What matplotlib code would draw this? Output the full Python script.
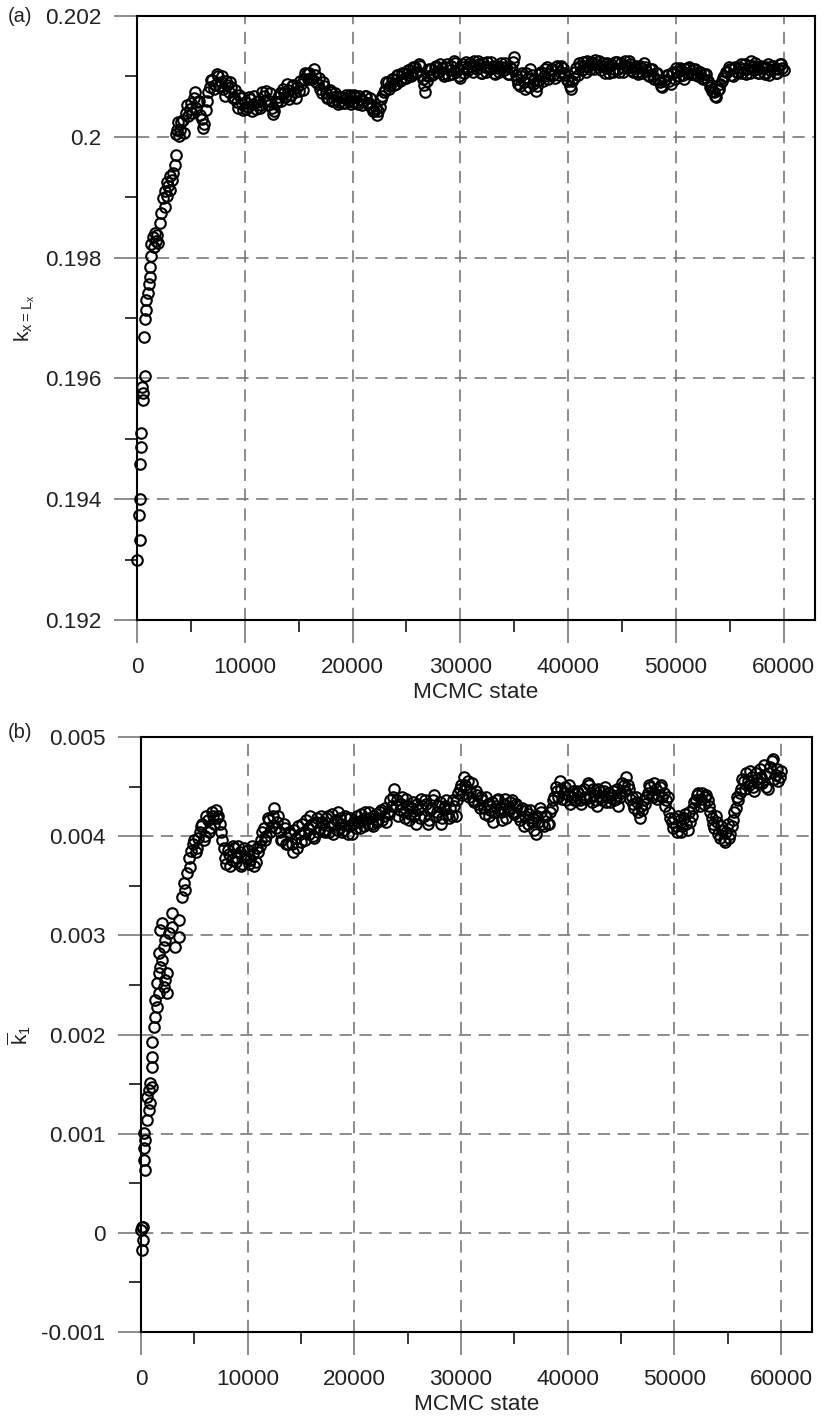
import numpy as np
import matplotlib
matplotlib.use("Agg")
import matplotlib.pyplot as plt
from matplotlib.ticker import MultipleLocator

plt.rcParams['font.family'] = ['Liberation Sans', 'DejaVu Sans']
plt.rcParams['mathtext.default'] = 'regular'

# ---- panel (a): k at x = L_x ----
# burn-in part, read point by point
early_states_a = [30, 250, 185, 250, 250, 340, 340, 555, 555, 460, 710, 650, 770, 860, 860,
                  1020, 1080, 1170, 1170, 1330, 1300, 1450, 1550, 1650, 1750, 1850, 1950,
                  2100, 2250, 2560, 2400, 2600, 2750, 2900, 3050, 3200, 3350, 3100, 2800,
                  3490, 3640, 3600, 3750, 3900, 3800]
early_values_a = [0.19299, 0.19332, 0.19374, 0.19400, 0.19459, 0.19487, 0.19510, 0.19565,
                  0.19575, 0.19586, 0.19604, 0.19669, 0.19698, 0.19713, 0.19730, 0.19741,
                  0.19757, 0.19768, 0.19785, 0.19802, 0.19822, 0.19834, 0.19818, 0.19840,
                  0.19828, 0.19838, 0.19824, 0.19857, 0.19874, 0.19884, 0.19898, 0.19910,
                  0.19925, 0.19918, 0.19935, 0.19928, 0.19940, 0.19912, 0.19902, 0.19953,
                  0.19970, 0.20004, 0.20012, 0.20002, 0.20024]

# rest of the chain: samples every 250 states from 4000, and the ones in between (from 4125)
chain_start_a = 4000
chain_values_a = [
    0.20012, 0.20028, 0.20040, 0.20034, 0.20056, 0.20064, 0.20048, 0.20060, 0.20030, 0.20022, 0.20060, 0.20082,
    0.20094, 0.20086, 0.20100, 0.20090, 0.20080, 0.20092, 0.20074, 0.20082, 0.20066, 0.20058, 0.20070, 0.20054,
    0.20058, 0.20050, 0.20062, 0.20054, 0.20046, 0.20060, 0.20052, 0.20068, 0.20076, 0.20060, 0.20048, 0.20042,
    0.20058, 0.20072, 0.20080, 0.20066, 0.20078, 0.20070, 0.20086, 0.20064, 0.20076, 0.20088, 0.20096, 0.20104,
    0.20106, 0.20096, 0.20102, 0.20088, 0.20080, 0.20090, 0.20072, 0.20064, 0.20074, 0.20060, 0.20068, 0.20058,
    0.20066, 0.20056, 0.20064, 0.20070, 0.20058, 0.20066, 0.20054, 0.20062, 0.20060, 0.20068, 0.20056, 0.20050,
    0.20042, 0.20036, 0.20050, 0.20068, 0.20078, 0.20090, 0.20084, 0.20096, 0.20088, 0.20102, 0.20094, 0.20106,
    0.20098, 0.20110, 0.20104, 0.20116, 0.20108, 0.20118, 0.20096, 0.20074, 0.20100, 0.20112, 0.20104, 0.20118,
    0.20108, 0.20114, 0.20100, 0.20120, 0.20110, 0.20104, 0.20122, 0.20112, 0.20098, 0.20116, 0.20124, 0.20110,
    0.20118, 0.20126, 0.20112, 0.20120, 0.20106, 0.20116, 0.20124, 0.20112, 0.20118, 0.20104, 0.20114, 0.20122,
    0.20110, 0.20116, 0.20104, 0.20112, 0.20132, 0.20096, 0.20084, 0.20106, 0.20080, 0.20098, 0.20112, 0.20088,
    0.20076, 0.20094, 0.20108, 0.20100, 0.20116, 0.20104, 0.20112, 0.20098, 0.20118, 0.20108, 0.20114, 0.20102,
    0.20092, 0.20080, 0.20098, 0.20114, 0.20122, 0.20110, 0.20118, 0.20126, 0.20112, 0.20120, 0.20128, 0.20116,
    0.20110, 0.20122, 0.20114, 0.20106, 0.20120, 0.20112, 0.20124, 0.20108, 0.20116, 0.20126, 0.20114, 0.20120,
    0.20108, 0.20118, 0.20104, 0.20114, 0.20122, 0.20110, 0.20100, 0.20112, 0.20096, 0.20106, 0.20090, 0.20082,
    0.20094, 0.20102, 0.20088, 0.20108, 0.20114, 0.20100, 0.20110, 0.20096, 0.20106, 0.20116, 0.20104, 0.20112,
    0.20100, 0.20108, 0.20096, 0.20104, 0.20092, 0.20086, 0.20074, 0.20066, 0.20080, 0.20092, 0.20100, 0.20108,
    0.20112, 0.20100, 0.20116, 0.20106, 0.20120, 0.20112, 0.20104, 0.20118, 0.20126, 0.20110, 0.20116, 0.20106,
    0.20114, 0.20104, 0.20120, 0.20110, 0.20118, 0.20106, 0.20112, 0.20120, 0.20110,
]
chain_values_a_mid = [
    0.20024, 0.20006, 0.20052, 0.20046, 0.20040, 0.20074, 0.20058, 0.20036, 0.20014, 0.20044, 0.20074, 0.20094,
    0.20080, 0.20104, 0.20084, 0.20100, 0.20068, 0.20086, 0.20090, 0.20064, 0.20078, 0.20048, 0.20064, 0.20044,
    0.20046, 0.20066, 0.20042, 0.20068, 0.20058, 0.20048, 0.20074, 0.20060, 0.20052, 0.20072, 0.20038, 0.20056,
    0.20066, 0.20060, 0.20072, 0.20088, 0.20062, 0.20084, 0.20074, 0.20082, 0.20092, 0.20078, 0.20106, 0.20096,
    0.20098, 0.20112, 0.20090, 0.20098, 0.20072, 0.20084, 0.20064, 0.20078, 0.20060, 0.20072, 0.20054, 0.20066,
    0.20056, 0.20070, 0.20060, 0.20054, 0.20070, 0.20058, 0.20068, 0.20052, 0.20068, 0.20056, 0.20064, 0.20042,
    0.20048, 0.20042, 0.20062, 0.20074, 0.20090, 0.20080, 0.20096, 0.20086, 0.20102, 0.20092, 0.20106, 0.20098,
    0.20110, 0.20100, 0.20116, 0.20106, 0.20120, 0.20102, 0.20086, 0.20092, 0.20112, 0.20102, 0.20116, 0.20108,
    0.20120, 0.20104, 0.20116, 0.20102, 0.20118, 0.20126, 0.20108, 0.20100, 0.20120, 0.20106, 0.20114, 0.20122,
    0.20108, 0.20118, 0.20126, 0.20106, 0.20122, 0.20108, 0.20114, 0.20124, 0.20106, 0.20118, 0.20108, 0.20116,
    0.20122, 0.20104, 0.20116, 0.20124, 0.20102, 0.20088, 0.20100, 0.20090, 0.20106, 0.20082, 0.20102, 0.20094,
    0.20084, 0.20104, 0.20092, 0.20112, 0.20096, 0.20110, 0.20102, 0.20116, 0.20102, 0.20118, 0.20106, 0.20094,
    0.20084, 0.20092, 0.20108, 0.20102, 0.20118, 0.20124, 0.20108, 0.20118, 0.20124, 0.20112, 0.20120, 0.20126,
    0.20118, 0.20106, 0.20122, 0.20118, 0.20108, 0.20124, 0.20112, 0.20122, 0.20108, 0.20118, 0.20126, 0.20110,
    0.20116, 0.20108, 0.20118, 0.20106, 0.20116, 0.20102, 0.20112, 0.20100, 0.20106, 0.20094, 0.20084, 0.20092,
    0.20102, 0.20092, 0.20106, 0.20096, 0.20108, 0.20114, 0.20102, 0.20112, 0.20114, 0.20104, 0.20112, 0.20102,
    0.20108, 0.20098, 0.20104, 0.20094, 0.20082, 0.20076, 0.20068, 0.20078, 0.20088, 0.20098, 0.20108, 0.20116,
    0.20102, 0.20114, 0.20108, 0.20116, 0.20106, 0.20120, 0.20112, 0.20106, 0.20118, 0.20122, 0.20106, 0.20118,
    0.20106, 0.20116, 0.20102, 0.20118, 0.20112, 0.20106, 0.20120, 0.20114,
]

# ---- panel (b): mean k_1 ----
early_states_b = [0, 190, 190, 65, 94, 408, 250, 250, 408, 250, 565, 720, 880, 565, 720, 880,
                  1035, 1035, 1035, 1035, 1190, 1350, 1500, 1350, 1660, 1500, 1660, 1820, 1970,
                  1660, 2290, 2450, 2450, 2130, 2130, 2290, 2600, 2920, 3230, 3540, 1970, 3540,
                  1820, 2920, 3860, 4170, 4020, 4330, 4640, 4500, 4700, 4850]
early_values_b = [0.000030, 0.000060, -0.000070, -0.000171, 0.000064, 0.000635, 0.000736,
                  0.000854, 0.000937, 0.001005, 0.001139, 0.001240, 0.001307, 0.001374,
                  0.001442, 0.001509, 0.001475, 0.001677, 0.001778, 0.001929, 0.002080,
                  0.002181, 0.002281, 0.002349, 0.002416, 0.002517, 0.002618, 0.002685,
                  0.002752, 0.002819, 0.002550, 0.002618, 0.002416, 0.002483, 0.002886,
                  0.002953, 0.003021, 0.003088, 0.002886, 0.002987, 0.003122, 0.003155,
                  0.003054, 0.003223, 0.003390, 0.003458, 0.003525, 0.003626, 0.003693,
                  0.003780, 0.003850, 0.003920]

chain_start_b = 5000
chain_values_b = [
    0.00396, 0.00388, 0.00404, 0.00412, 0.00400, 0.00416, 0.00408, 0.00420, 0.00426, 0.00420, 0.00404, 0.00388,
    0.00372, 0.00382, 0.00376, 0.00388, 0.00378, 0.00384, 0.00372, 0.00380, 0.00386, 0.00376, 0.00382, 0.00374,
    0.00384, 0.00396, 0.00408, 0.00400, 0.00416, 0.00410, 0.00428, 0.00414, 0.00404, 0.00396, 0.00408, 0.00392,
    0.00402, 0.00384, 0.00398, 0.00410, 0.00394, 0.00404, 0.00416, 0.00402, 0.00412, 0.00398, 0.00418, 0.00408,
    0.00414, 0.00404, 0.00420, 0.00410, 0.00402, 0.00416, 0.00424, 0.00412, 0.00406, 0.00418, 0.00410, 0.00402,
    0.00414, 0.00420, 0.00408, 0.00416, 0.00424, 0.00412, 0.00418, 0.00410, 0.00422, 0.00416, 0.00426, 0.00420,
    0.00414, 0.00422, 0.00430, 0.00448, 0.00436, 0.00426, 0.00440, 0.00418, 0.00430, 0.00422, 0.00434, 0.00412,
    0.00426, 0.00438, 0.00420, 0.00432, 0.00416, 0.00428, 0.00442, 0.00424, 0.00434, 0.00418, 0.00430, 0.00422,
    0.00428, 0.00436, 0.00420, 0.00444, 0.00452, 0.00460, 0.00448, 0.00440, 0.00454, 0.00434, 0.00442, 0.00428,
    0.00436, 0.00422, 0.00432, 0.00426, 0.00414, 0.00430, 0.00438, 0.00424, 0.00432, 0.00418, 0.00428, 0.00436,
    0.00422, 0.00430, 0.00416, 0.00428, 0.00420, 0.00412, 0.00426, 0.00418, 0.00402, 0.00414, 0.00424, 0.00410,
    0.00420, 0.00412, 0.00428, 0.00440, 0.00446, 0.00456, 0.00438, 0.00450, 0.00442, 0.00432, 0.00446, 0.00436,
    0.00444, 0.00432, 0.00448, 0.00438, 0.00452, 0.00434, 0.00442, 0.00430, 0.00446, 0.00436, 0.00450, 0.00440,
    0.00434, 0.00446, 0.00438, 0.00430, 0.00444, 0.00452, 0.00460, 0.00448, 0.00440, 0.00428, 0.00434, 0.00418,
    0.00426, 0.00432, 0.00444, 0.00450, 0.00440, 0.00448, 0.00442, 0.00452, 0.00444, 0.00436, 0.00424, 0.00414,
    0.00418, 0.00404, 0.00416, 0.00410, 0.00422, 0.00406, 0.00414, 0.00428, 0.00436, 0.00444, 0.00438, 0.00432,
    0.00442, 0.00430, 0.00418, 0.00408, 0.00414, 0.00398, 0.00406, 0.00394, 0.00412, 0.00402, 0.00416, 0.00428,
    0.00436, 0.00448, 0.00456, 0.00464, 0.00452, 0.00460, 0.00446, 0.00458, 0.00468, 0.00454, 0.00462, 0.00448,
    0.00470, 0.00478, 0.00462, 0.00456, 0.00466,
]
chain_values_b_mid = [
    0.00384, 0.00398, 0.00410, 0.00396, 0.00420, 0.00404, 0.00424, 0.00412, 0.00418, 0.00412, 0.00396, 0.00378,
    0.00386, 0.00370, 0.00390, 0.00374, 0.00390, 0.00370, 0.00388, 0.00378, 0.00372, 0.00390, 0.00370, 0.00388,
    0.00390, 0.00404, 0.00396, 0.00418, 0.00404, 0.00420, 0.00408, 0.00420, 0.00396, 0.00412, 0.00392, 0.00404,
    0.00392, 0.00406, 0.00388, 0.00402, 0.00412, 0.00396, 0.00408, 0.00420, 0.00400, 0.00414, 0.00404, 0.00420,
    0.00406, 0.00418, 0.00404, 0.00422, 0.00412, 0.00406, 0.00418, 0.00404, 0.00420, 0.00402, 0.00418, 0.00412,
    0.00408, 0.00414, 0.00422, 0.00410, 0.00418, 0.00424, 0.00412, 0.00420, 0.00414, 0.00424, 0.00416, 0.00428,
    0.00424, 0.00436, 0.00440, 0.00430, 0.00420, 0.00432, 0.00424, 0.00438, 0.00416, 0.00428, 0.00420, 0.00432,
    0.00418, 0.00430, 0.00436, 0.00412, 0.00426, 0.00436, 0.00420, 0.00430, 0.00412, 0.00428, 0.00436, 0.00418,
    0.00420, 0.00430, 0.00436, 0.00448, 0.00442, 0.00452, 0.00456, 0.00446, 0.00436, 0.00446, 0.00432, 0.00440,
    0.00428, 0.00440, 0.00420, 0.00434, 0.00424, 0.00436, 0.00428, 0.00416, 0.00438, 0.00426, 0.00434, 0.00424,
    0.00432, 0.00420, 0.00426, 0.00410, 0.00426, 0.00422, 0.00414, 0.00406, 0.00420, 0.00428, 0.00412, 0.00420,
    0.00412, 0.00424, 0.00436, 0.00450, 0.00440, 0.00448, 0.00444, 0.00436, 0.00452, 0.00440, 0.00436, 0.00446,
    0.00436, 0.00446, 0.00440, 0.00454, 0.00440, 0.00448, 0.00436, 0.00448, 0.00440, 0.00446, 0.00434, 0.00444,
    0.00442, 0.00436, 0.00448, 0.00440, 0.00454, 0.00446, 0.00452, 0.00438, 0.00432, 0.00440, 0.00424, 0.00430,
    0.00436, 0.00440, 0.00452, 0.00442, 0.00454, 0.00438, 0.00450, 0.00440, 0.00430, 0.00440, 0.00418, 0.00408,
    0.00410, 0.00420, 0.00404, 0.00418, 0.00412, 0.00424, 0.00420, 0.00434, 0.00442, 0.00430, 0.00444, 0.00440,
    0.00436, 0.00424, 0.00412, 0.00420, 0.00402, 0.00410, 0.00396, 0.00404, 0.00398, 0.00410, 0.00424, 0.00440,
    0.00444, 0.00458, 0.00448, 0.00456, 0.00466, 0.00450, 0.00464, 0.00454, 0.00460, 0.00472, 0.00450, 0.00464,
    0.00476, 0.00458, 0.00468, 0.00460,
]
chain_step = 250

# axis ticks
x_ticks = [0, 10000, 20000, 30000, 40000, 50000, 60000]
x_ticklabels = ['0', '10000', '20000', '30000', '40000', '50000', '60000']
y_ticks_a = [0.192, 0.194, 0.196, 0.198, 0.200, 0.202]
y_ticklabels_a = ['0.192', '0.194', '0.196', '0.198', '0.2', '0.202']
y_ticks_b = [-0.001, 0.0, 0.001, 0.002, 0.003, 0.004, 0.005]
y_ticklabels_b = ['-0.001', '0', '0.001', '0.002', '0.003', '0.004', '0.005']

grid_col = '#6e6e6e'
txt_col = '#222222'
fs = 16.2


def style_axes(ax, yticks, yticklabels, ylim, yminor, ylabel, ylabelpad):
    ax.set_xlim(0, 62900)
    ax.set_ylim(*ylim)
    ax.set_xticks(x_ticks)
    ax.set_xticklabels(x_ticklabels)
    ax.set_yticks(yticks)
    ax.set_yticklabels(yticklabels)
    ax.xaxis.set_minor_locator(MultipleLocator(5000))
    ax.yaxis.set_minor_locator(MultipleLocator(yminor))
    ax.tick_params(which='major', direction='out', length=16.5, width=1.1,
                   color=grid_col, labelsize=fs, labelcolor=txt_col)
    ax.tick_params(axis='x', which='major', pad=10)
    ax.tick_params(axis='y', which='major', pad=9)
    ax.tick_params(which='minor', direction='out', length=8.5, width=1.1, color='black')
    for sp in ax.spines.values():
        sp.set_linewidth(1.5)
        sp.set_color('black')
    ax.grid(True, which='major', color=grid_col, linestyle=(0, (8, 5)), linewidth=1.1)
    ax.set_axisbelow(True)
    ax.set_xlabel('MCMC state', fontsize=fs, color=txt_col, labelpad=3)
    ax.set_ylabel(ylabel, fontsize=15, color=txt_col, labelpad=ylabelpad)


fig = plt.figure(figsize=(8.21, 14.19), dpi=100)
ax_a = fig.add_axes([0.1669, 0.5631, 0.8258, 0.4256])
ax_b = fig.add_axes([0.1717, 0.0613, 0.8173, 0.4193])

mk = dict(linestyle='none', marker='o', markersize=7.6, markerfacecolor='none',
          markeredgecolor='black', markeredgewidth=1.5, clip_on=False)

states_a = chain_start_a + chain_step * np.arange(len(chain_values_a))
states_a_mid = chain_start_a + chain_step // 2 + chain_step * np.arange(len(chain_values_a_mid))
ax_a.plot(early_states_a, early_values_a, **mk)
ax_a.plot(states_a, chain_values_a, **mk)
ax_a.plot(states_a_mid, chain_values_a_mid, **mk)
style_axes(ax_a, y_ticks_a, y_ticklabels_a, (0.192, 0.202), 0.001, r'$k_{x=L_x}$', 6)

states_b = chain_start_b + chain_step * np.arange(len(chain_values_b))
states_b_mid = chain_start_b + chain_step // 2 + chain_step * np.arange(len(chain_values_b_mid))
ax_b.plot(early_states_b, early_values_b, **mk)
ax_b.plot(states_b, chain_values_b, **mk)
ax_b.plot(states_b_mid, chain_values_b_mid, **mk)
style_axes(ax_b, y_ticks_b, y_ticklabels_b, (-0.001, 0.005), 0.0005, r'$\overline{k}_1$', 6)

fig.text(0.009, 1 - 17 / 1419, '(a)', fontsize=14.5, color=txt_col, va='center')
fig.text(0.009, 1 - 733 / 1419, '(b)', fontsize=14.5, color=txt_col, va='center')

fig.savefig('out.png', dpi=100)
